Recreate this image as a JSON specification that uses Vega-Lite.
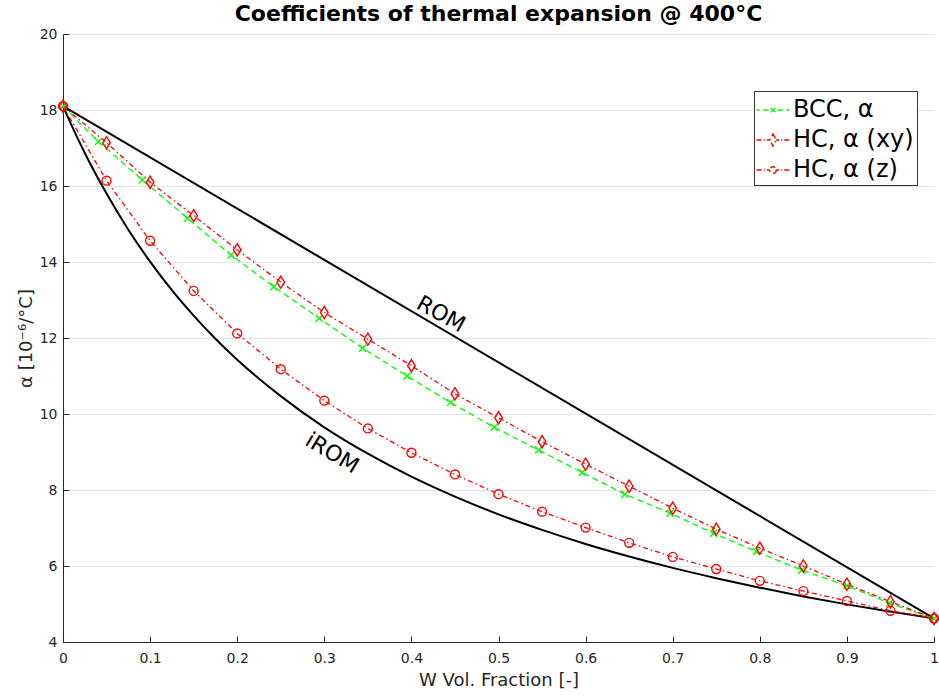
{
  "$schema": "https://vega.github.io/schema/vega-lite/v6.json",
  "autosize": {"type": "none"},
  "width": 871,
  "height": 608,
  "padding": {"left": 63, "top": 34, "right": 5, "bottom": 55},
  "background": "white",
  "title": {"text": "Coefficients of thermal expansion @ 400°C", "font": "DejaVu Sans", "fontSize": 22, "fontWeight": "bold", "color": "black", "anchor": "middle", "offset": 1},
  "config": {
    "view": {"stroke": null},
    "axis": {"domainColor": "#262626", "tickColor": "#262626", "labelColor": "#262626", "labelFont": "DejaVu Sans", "labelFontSize": 14, "titleFont": "DejaVu Sans", "titleFontSize": 18, "titleFontWeight": "normal", "titleColor": "#262626", "gridColor": "#e3e3e3", "tickSize": -6, "domainWidth": 1, "labelFlush": false}
  },
  "datasets": {
    "curves": [
      {"series": "ROM", "f": 0, "alpha": 18.1}, {"series": "ROM", "f": 1, "alpha": 4.62},
      {"series": "iROM", "f": 0, "alpha": 18.1}, {"series": "iROM", "f": 0.01, "alpha": 17.59}, {"series": "iROM", "f": 0.025, "alpha": 16.87}, {"series": "iROM", "f": 0.05, "alpha": 15.8}, {"series": "iROM", "f": 0.075, "alpha": 14.85}, {"series": "iROM", "f": 0.1, "alpha": 14.01}, {"series": "iROM", "f": 0.125, "alpha": 13.26}, {"series": "iROM", "f": 0.15, "alpha": 12.59}, {"series": "iROM", "f": 0.175, "alpha": 11.98}, {"series": "iROM", "f": 0.2, "alpha": 11.43}, {"series": "iROM", "f": 0.25, "alpha": 10.47}, {"series": "iROM", "f": 0.3, "alpha": 9.65}, {"series": "iROM", "f": 0.35, "alpha": 8.955}, {"series": "iROM", "f": 0.4, "alpha": 8.35}, {"series": "iROM", "f": 0.45, "alpha": 7.825}, {"series": "iROM", "f": 0.5, "alpha": 7.36}, {"series": "iROM", "f": 0.55, "alpha": 6.95}, {"series": "iROM", "f": 0.6, "alpha": 6.58}, {"series": "iROM", "f": 0.65, "alpha": 6.25}, {"series": "iROM", "f": 0.7, "alpha": 5.95}, {"series": "iROM", "f": 0.75, "alpha": 5.68}, {"series": "iROM", "f": 0.8, "alpha": 5.43}, {"series": "iROM", "f": 0.85, "alpha": 5.2}, {"series": "iROM", "f": 0.9, "alpha": 4.99}, {"series": "iROM", "f": 0.95, "alpha": 4.8}, {"series": "iROM", "f": 1, "alpha": 4.62}
    ],
    "series": [
      {"series": "BCC, α", "f": 0, "alpha": 18.1}, {"series": "BCC, α", "f": 0.0405, "alpha": 17.17}, {"series": "BCC, α", "f": 0.091, "alpha": 16.16}, {"series": "BCC, α", "f": 0.143, "alpha": 15.15}, {"series": "BCC, α", "f": 0.193, "alpha": 14.18}, {"series": "BCC, α", "f": 0.242, "alpha": 13.35}, {"series": "BCC, α", "f": 0.294, "alpha": 12.52}, {"series": "BCC, α", "f": 0.344, "alpha": 11.73}, {"series": "BCC, α", "f": 0.395, "alpha": 11.0}, {"series": "BCC, α", "f": 0.445, "alpha": 10.3}, {"series": "BCC, α", "f": 0.495, "alpha": 9.65}, {"series": "BCC, α", "f": 0.546, "alpha": 9.05}, {"series": "BCC, α", "f": 0.596, "alpha": 8.46}, {"series": "BCC, α", "f": 0.645, "alpha": 7.89}, {"series": "BCC, α", "f": 0.697, "alpha": 7.39}, {"series": "BCC, α", "f": 0.747, "alpha": 6.86}, {"series": "BCC, α", "f": 0.796, "alpha": 6.38}, {"series": "BCC, α", "f": 0.848, "alpha": 5.89}, {"series": "BCC, α", "f": 0.9, "alpha": 5.48}, {"series": "BCC, α", "f": 0.949, "alpha": 5.02}, {"series": "BCC, α", "f": 1, "alpha": 4.62},
      {"series": "HC, α (xy)", "f": 0, "alpha": 18.1}, {"series": "HC, α (xy)", "f": 0.05, "alpha": 17.14}, {"series": "HC, α (xy)", "f": 0.1, "alpha": 16.1}, {"series": "HC, α (xy)", "f": 0.15, "alpha": 15.22}, {"series": "HC, α (xy)", "f": 0.2, "alpha": 14.32}, {"series": "HC, α (xy)", "f": 0.25, "alpha": 13.47}, {"series": "HC, α (xy)", "f": 0.3, "alpha": 12.67}, {"series": "HC, α (xy)", "f": 0.35, "alpha": 11.97}, {"series": "HC, α (xy)", "f": 0.4, "alpha": 11.27}, {"series": "HC, α (xy)", "f": 0.45, "alpha": 10.53}, {"series": "HC, α (xy)", "f": 0.5, "alpha": 9.9}, {"series": "HC, α (xy)", "f": 0.55, "alpha": 9.27}, {"series": "HC, α (xy)", "f": 0.6, "alpha": 8.68}, {"series": "HC, α (xy)", "f": 0.65, "alpha": 8.1}, {"series": "HC, α (xy)", "f": 0.7, "alpha": 7.52}, {"series": "HC, α (xy)", "f": 0.75, "alpha": 6.97}, {"series": "HC, α (xy)", "f": 0.8, "alpha": 6.47}, {"series": "HC, α (xy)", "f": 0.85, "alpha": 6.0}, {"series": "HC, α (xy)", "f": 0.9, "alpha": 5.52}, {"series": "HC, α (xy)", "f": 0.95, "alpha": 5.06}, {"series": "HC, α (xy)", "f": 1, "alpha": 4.62},
      {"series": "HC, α (z)", "f": 0, "alpha": 18.1}, {"series": "HC, α (z)", "f": 0.05, "alpha": 16.14}, {"series": "HC, α (z)", "f": 0.1, "alpha": 14.56}, {"series": "HC, α (z)", "f": 0.15, "alpha": 13.24}, {"series": "HC, α (z)", "f": 0.2, "alpha": 12.12}, {"series": "HC, α (z)", "f": 0.25, "alpha": 11.18}, {"series": "HC, α (z)", "f": 0.3, "alpha": 10.35}, {"series": "HC, α (z)", "f": 0.35, "alpha": 9.62}, {"series": "HC, α (z)", "f": 0.4, "alpha": 8.98}, {"series": "HC, α (z)", "f": 0.45, "alpha": 8.41}, {"series": "HC, α (z)", "f": 0.5, "alpha": 7.89}, {"series": "HC, α (z)", "f": 0.55, "alpha": 7.43}, {"series": "HC, α (z)", "f": 0.6, "alpha": 7.01}, {"series": "HC, α (z)", "f": 0.65, "alpha": 6.61}, {"series": "HC, α (z)", "f": 0.7, "alpha": 6.24}, {"series": "HC, α (z)", "f": 0.75, "alpha": 5.92}, {"series": "HC, α (z)", "f": 0.8, "alpha": 5.61}, {"series": "HC, α (z)", "f": 0.85, "alpha": 5.34}, {"series": "HC, α (z)", "f": 0.9, "alpha": 5.08}, {"series": "HC, α (z)", "f": 0.95, "alpha": 4.82}, {"series": "HC, α (z)", "f": 1, "alpha": 4.62}
    ],
    "labels": [
      {"label": "ROM", "f": 0.434, "alpha": 12.63},
      {"label": "iROM", "f": 0.309, "alpha": 8.97}
    ]
  },
  "encoding": {
    "x": {"field": "f", "type": "quantitative", "scale": {"domain": [0, 1], "nice": false, "zero": false}, "axis": {"title": "W Vol. Fraction [-]", "values": [0, 0.1, 0.2, 0.3, 0.4, 0.5, 0.6, 0.7, 0.8, 0.9, 1], "format": "~g", "grid": false, "labelPadding": 15, "titlePadding": 6}},
    "y": {"field": "alpha", "type": "quantitative", "scale": {"domain": [4, 20], "nice": false, "zero": false}, "axis": {"title": "α [10⁻⁶/°C]", "values": [4, 6, 8, 10, 12, 14, 16, 18, 20], "format": "d", "grid": true, "labelPadding": 12, "titlePadding": 4}}
  },
  "layer": [
    {
      "data": {"name": "curves"},
      "mark": {"type": "line", "color": "black", "strokeWidth": 2, "interpolate": "monotone"},
      "encoding": {"detail": {"field": "series"}}
    },
    {
      "data": {"name": "series"},
      "mark": {"type": "line", "strokeWidth": 1.3},
      "encoding": {
        "color": {"field": "series", "type": "nominal", "scale": {"domain": ["BCC, α", "HC, α (xy)", "HC, α (z)"], "range": ["#00ff00", "#ff0000", "#ff0000"]},
          "legend": {"orient": "none", "legendX": 691, "legendY": 57, "title": null, "labelFont": "DejaVu Sans", "labelFontSize": 24, "labelColor": "black", "strokeColor": "#333333", "fillColor": "white", "padding": 3, "rowPadding": 2, "symbolSize": 900, "symbolType": "M-1,0H1", "labelOffset": 4, "labelLimit": 300,
            "encode": {"symbols": {"update": {
              "shape": {"signal": "indexof(datum.label, 'BCC') >= 0 ? 'M-1.1,0H-0.9M-0.65,0H-0.3M0.3,0H0.65M0.9,0H1.1M-0.15,-0.15L0.15,0.15M-0.15,0.15L0.15,-0.15' : (indexof(datum.label, 'xy') >= 0 ? 'M-1.1,0H-0.75M-0.62,0H-0.55M-0.42,0H-0.2M0.2,0H0.42M0.55,0H0.62M0.75,0H1.1M0,-0.4L0.22,0L0,0.4L-0.22,0Z' : 'M-1.1,0H-0.75M-0.62,0H-0.55M-0.42,0H-0.22M0.22,0H0.42M0.55,0H0.62M0.75,0H1.1M0.22,0A0.22,0.22 0 1,1 -0.22,0A0.22,0.22 0 1,1 0.22,0')"},
              "fill": {"value": "transparent"},
              "strokeWidth": {"value": 1.4},
              "strokeDash": {"value": []}
            }}}
          }},
        "strokeDash": {"field": "series", "type": "nominal", "scale": {"domain": ["BCC, α", "HC, α (xy)", "HC, α (z)"], "range": [[6, 4], [5, 3, 1.5, 3], [5, 3, 1.5, 3]]}, "legend": null}
      }
    },
    {
      "data": {"name": "series"},
      "transform": [{"filter": "datum.series === 'BCC, α'"}],
      "mark": {"type": "point", "shape": "M-1,-1L1,1M-1,1L1,-1", "filled": false, "color": "#00ff00", "size": 49, "strokeWidth": 1.4, "opacity": 1}
    },
    {
      "data": {"name": "series"},
      "transform": [{"filter": "datum.series === 'HC, α (xy)'"}],
      "mark": {"type": "point", "shape": "M0,-1L0.62,0L0,1L-0.62,0Z", "filled": false, "color": "#ff0000", "size": 150, "strokeWidth": 1.4, "opacity": 1}
    },
    {
      "data": {"name": "series"},
      "transform": [{"filter": "datum.series === 'HC, α (z)'"}],
      "mark": {"type": "point", "shape": "circle", "filled": false, "color": "#ff0000", "size": 80, "strokeWidth": 1.4, "opacity": 1}
    },
    {
      "data": {"name": "labels"},
      "transform": [{"filter": "datum.label === 'ROM'"}],
      "mark": {"type": "text", "font": "DejaVu Sans", "fontSize": 22, "color": "black", "angle": 29, "align": "center", "baseline": "middle"},
      "encoding": {"text": {"field": "label"}}
    },
    {
      "data": {"name": "labels"},
      "transform": [{"filter": "datum.label === 'iROM'"}],
      "mark": {"type": "text", "font": "DejaVu Sans", "fontSize": 22, "color": "black", "angle": 31, "align": "center", "baseline": "middle"},
      "encoding": {"text": {"field": "label"}}
    }
  ]
}
